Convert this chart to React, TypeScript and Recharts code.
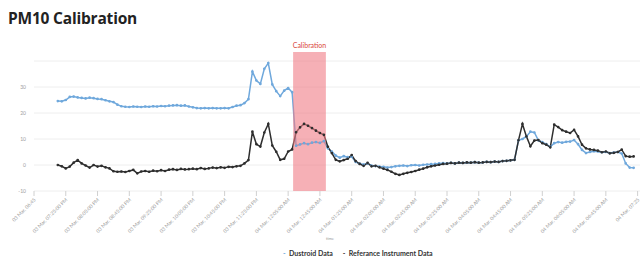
import { LineChart, Line, XAxis, YAxis, CartesianGrid, ReferenceArea } from 'recharts';

// x positions of the axis ticks (sample index) and their labels
const tickPositions = [0, 8, 16, 24, 32, 40, 48, 56, 64, 72, 80, 88, 96, 104, 112, 120, 128, 136, 144, 152];
const tickLabels = [
  '03 Mar, 06:45',
  '03 Mar, 07:25:00 PM',
  '03 Mar, 08:05:00 PM',
  '03 Mar, 08:45:00 PM',
  '03 Mar, 09:25:00 PM',
  '03 Mar, 10:05:00 PM',
  '03 Mar, 10:45:00 PM',
  '03 Mar, 11:25:00 PM',
  '04 Mar, 12:05:00 AM',
  '04 Mar, 12:45:00 AM',
  '04 Mar, 01:25:00 AM',
  '04 Mar, 02:05:00 AM',
  '04 Mar, 02:45:00 AM',
  '04 Mar, 03:25:00 AM',
  '04 Mar, 04:05:00 AM',
  '04 Mar, 04:45:00 AM',
  '04 Mar, 05:25:00 AM',
  '04 Mar, 06:05:00 AM',
  '04 Mar, 06:45:00 AM',
  '04 Mar, 07:25',
];
const yTicks = [-10, 0, 10, 20, 30];

const firstSample = 6;

const dustroid = [
  24.6, 24.5, 25.0, 26.2, 26.3, 26.0, 25.8, 25.6, 25.9, 25.7,
  25.4, 25.3, 24.9, 24.5, 24.2, 23.2, 22.6, 22.4, 22.3, 22.5,
  22.4, 22.3, 22.5, 22.4, 22.6, 22.5, 22.7, 22.6, 22.8, 22.9,
  23.0, 22.8, 22.9, 22.5, 22.2, 21.9, 21.8, 21.9, 21.8, 21.9,
  21.8, 21.8, 21.9, 21.8, 22.3, 22.8, 23.0, 23.8, 25.3, 35.9,
  32.5, 31.2, 37.0, 39.2, 31.0, 28.4, 26.5, 28.6, 29.6, 28.0,
  7.4, 7.9, 8.4, 8.0, 8.6, 8.8, 8.5, 9.2, 6.4, 5.2,
  3.6, 2.8, 3.4, 3.0, 3.2, 1.2, 0.5, 0.2, 0.6, -0.2,
  -0.4, -0.6, -0.7, -1.0, -0.8, -0.5, -0.3, -0.2, -0.4, -0.1,
  0.0, -0.2, 0.1, 0.2, 0.3, 0.4, 0.6, 0.7, 0.6, 0.8,
  0.6, 0.9, 0.8, 1.0, 0.9, 1.1, 0.9, 1.0, 1.2, 1.1,
  1.3, 1.2, 1.5, 1.6, 1.8, 2.0, 9.5, 10.0, 11.0, 12.8,
  12.5, 9.5, 8.8, 8.0, 7.0, 8.4, 8.8, 8.6, 8.9, 9.0,
  9.6, 8.0, 5.8, 4.6, 5.0, 5.3, 5.2, 4.9, 5.0, 4.6,
  4.8, 5.0, 4.4, 0.6, -1.0, -1.1,
];

const referenceInstrument = [
  0.0, -0.5, -1.3, -0.6, 0.9, 1.9, 0.6, -0.2, -1.0, 0.0,
  -0.6, -0.3, -0.9, -1.3, -2.4, -2.6, -2.5, -2.7, -2.3, -1.9,
  -3.2, -2.5, -2.3, -2.6, -2.2, -2.4, -2.0, -2.3, -1.8, -1.6,
  -1.9, -1.5, -1.7, -1.6, -1.4, -1.6, -1.2, -1.5, -1.3, -1.0,
  -1.2, -0.9, -1.1, -0.7, -0.8, -0.5, -0.3, 0.6, 1.9, 12.8,
  8.0, 7.1, 12.5, 15.8, 7.5, 5.1, 2.0, 2.4, 5.2, 6.0,
  12.6, 14.5, 15.8, 15.1, 14.2, 13.2, 12.3, 11.6, 7.0, 4.6,
  2.0, 1.4, 1.9, 2.4, 3.8, 1.5, 0.4, -0.3, 0.8, -0.5,
  -0.3, -0.9, -1.4, -1.9, -2.6, -3.4, -3.8, -3.4, -3.0, -2.7,
  -2.3, -1.8, -1.4, -0.9, -0.5, -0.2, 0.1, 0.4, 0.5, 0.8,
  0.6, 0.9, 0.8, 1.0, 0.9, 1.1, 0.9, 1.0, 1.2, 1.1,
  1.3, 1.2, 1.5, 1.6, 1.8, 2.0, 9.5, 15.8, 11.0, 7.2,
  9.4, 9.6, 8.4, 7.8, 6.8, 15.5, 14.6, 13.4, 12.8, 12.3,
  13.5, 11.0, 7.8, 6.4, 6.0, 5.8, 5.5, 4.9, 5.2, 4.5,
  4.7, 5.0, 5.9, 3.4, 3.2, 3.3,
];

// calibration window, in sample index units
const calibrationStart = 65.25;
const calibrationEnd = 73.5;

const data = dustroid.map((v, i) => ({
  t: firstSample + i,
  dustroid: v,
  reference: referenceInstrument[i],
}));

const BLUE = '#6fa8dc';
const DARK = '#2e2e2e';

function DateTick(props: any) {
  const { x, y, payload } = props;
  const label = tickLabels[tickPositions.indexOf(payload.value)] ?? '';
  return (
    <g transform={`translate(${x},${y})`}>
      <text x={0} y={0} dy={3} textAnchor="end" transform="rotate(-45)" fontSize={5} fill="#a0a0a0">
        {label}
      </text>
    </g>
  );
}

export default function App() {
  return (
    <div style={{ position: 'absolute', left: 0, top: 0, width: 640, height: 260, background: '#fff', overflow: 'hidden', fontFamily: 'Lato, "Open Sans", sans-serif' }}>
      <div style={{ position: 'absolute', left: 8, top: 7, fontSize: 15.5, fontWeight: 700, color: '#222', fontFamily: '"Open Sans", sans-serif', letterSpacing: -0.2 }}>
        PM10 Calibration
      </div>
      <LineChart width={640} height={260} data={data} margin={{ top: 61, right: 0, bottom: 0, left: 0 }}>
        <CartesianGrid vertical={false} stroke="#eeeeee" />
        <XAxis
          dataKey="t"
          type="number"
          domain={[0, 152.6]}
          ticks={tickPositions}
          interval={0}
          height={69}
          axisLine={false}
          tickLine={{ stroke: '#d0d0d0' }}
          tickSize={5}
          tick={<DateTick />}
          allowDataOverflow
        />
        <YAxis
          domain={[-10, 40]}
          ticks={yTicks}
          width={34}
          axisLine={false}
          tickLine={false}
          tick={{ fontSize: 5, fill: '#a0a0a0' }}
        />
        <Line
          type="linear"
          dataKey="dustroid"
          stroke={BLUE}
          strokeWidth={1.5}
          dot={{ r: 0.6, fill: BLUE, stroke: BLUE }}
          isAnimationActive={false}
        />
        <Line
          type="linear"
          dataKey="reference"
          stroke={DARK}
          strokeWidth={1.5}
          dot={{ r: 0.6, fill: DARK, stroke: DARK }}
          isAnimationActive={false}
        />
        <ReferenceArea
          x1={calibrationStart}
          x2={calibrationEnd}
          y1={-10}
          y2={43.5}
          ifOverflow="visible"
          fill="#f07b86"
          fillOpacity={0.6}
          stroke="none"
          zIndex={450}
          label={{ value: 'Calibration', position: 'top', fill: '#d9483b', fontSize: 7, offset: 4 }}
        />
      </LineChart>
      <div style={{ position: 'absolute', left: 326, top: 236, fontSize: 4, color: '#999' }}>time</div>
      <div style={{ position: 'absolute', left: 283, top: 249, fontSize: 7, fontWeight: 700, color: '#333', display: 'flex', gap: 10, whiteSpace: 'nowrap' }}>
        <span><span style={{ color: BLUE }}>-</span>&nbsp; Dustroid Data</span>
        <span><span style={{ color: DARK }}>-</span>&nbsp; Referance Instrument Data</span>
      </div>
    </div>
  );
}
